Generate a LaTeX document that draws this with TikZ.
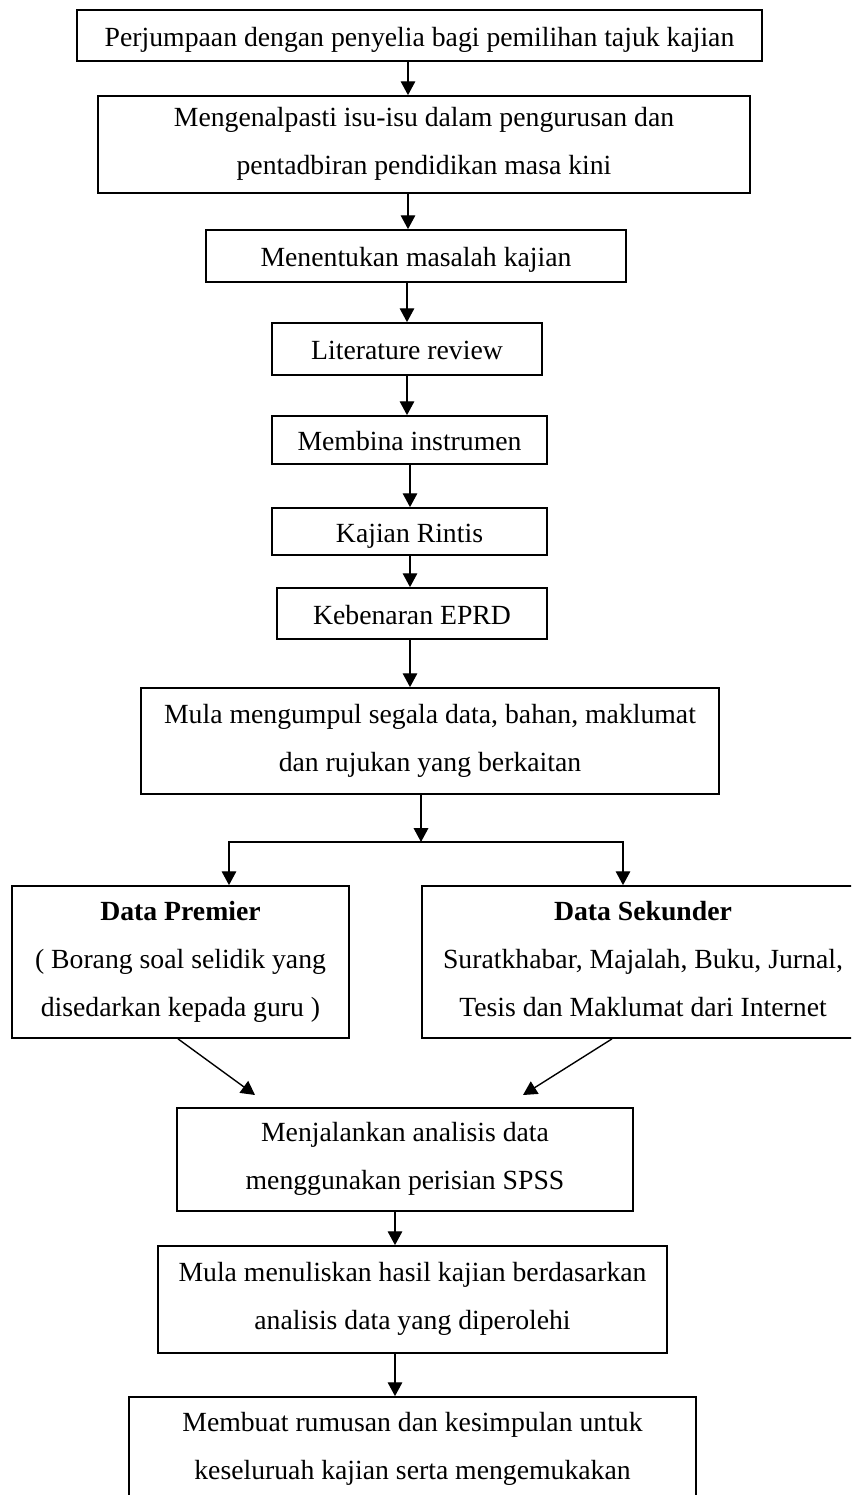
\documentclass[tikz,border=0pt]{standalone}
\usepackage{fontspec}
\setmainfont{Liberation Serif}
\usetikzlibrary{positioning, arrows.meta, calc}
\newcommand{\px}{0.433pt}
\newcommand{\tiang}{\rule[-3pt]{0pt}{15.5pt}}

\begin{document}
\begin{tikzpicture}[
      x=\px, y=-\px,
      boks/.style={draw=black, line width=0.75pt, align=center, inner sep=0pt,
        font=\fontsize{12}{20.8}\selectfont,
        execute at begin node=\tiang, execute at end node=\tiang},
      arr/.style={-{Triangle[length=6pt, width=6.3pt]}, line width=0.6pt}
    ]
    \clip (0,0) rectangle (851,1495);
    % column coordinates for the arrows
    \coordinate (k1) at (408,0);
    \coordinate (k2) at (407,0);
    \coordinate (k3) at (410,0);
    \coordinate (k5) at (395,0);
    \coordinate (kL) at (229,0);
    \coordinate (kR) at (623,0);
    \coordinate (simpang) at (421,842);
    \coordinate (tipL) at (255,1095);
    \coordinate (tipR) at (523,1095);
    % steps
    \node[boks, minimum width=685*\px, minimum height=51*\px] (tajuk) at (419.5,35.5)
      {Perjumpaan dengan penyelia bagi pemilihan tajuk kajian};
    \node[boks, minimum width=652*\px, minimum height=97*\px] (isu) at (424,144.5)
      {Mengenalpasti isu-isu dalam pengurusan dan\\pentadbiran pendidikan masa kini};
    \node[boks, minimum width=420*\px, minimum height=52*\px] (masalah) at (416,256)
      {Menentukan masalah kajian};
    \node[boks, minimum width=270*\px, minimum height=52*\px] (literatur) at (407,349)
      {Literature review};
    \node[boks, minimum width=275*\px, minimum height=48*\px] (instrumen) at (409.5,440)
      {Membina instrumen};
    \node[boks, minimum width=275*\px, minimum height=47*\px] (rintis) at (409.5,531.5)
      {Kajian Rintis};
    \node[boks, minimum width=270*\px, minimum height=51*\px] (eprd) at (412,613.5)
      {Kebenaran EPRD};
    \node[boks, minimum width=578*\px, minimum height=106*\px] (kumpul) at (430,741)
      {Mula mengumpul segala data, bahan, maklumat\\dan rujukan yang berkaitan};
    \node[boks, minimum width=337*\px, minimum height=152*\px] (premier) at (180.5,962)
      {\textbf{Data Premier}\\( Borang soal selidik yang\\disedarkan kepada guru )};
    \node[boks, minimum width=442*\px, minimum height=152*\px] (sekunder) at (643,962)
      {\textbf{Data Sekunder}\\Suratkhabar, Majalah, Buku, Jurnal,\\Tesis dan Maklumat dari Internet};
    \node[boks, minimum width=456*\px, minimum height=103*\px] (analisis) at (405,1159.5)
      {Menjalankan analisis data\\menggunakan perisian SPSS};
    \node[boks, minimum width=509*\px, minimum height=107*\px] (tulis) at (412.5,1299.5)
      {Mula menuliskan hasil kajian berdasarkan\\analisis data yang diperolehi};
    \node[boks, minimum width=567*\px, minimum height=104*\px] (rumusan) at (412.5,1449)
      {Membuat rumusan dan kesimpulan untuk\\keseluruah kajian serta mengemukakan};
    % arrows
    \draw[arr] (tajuk.south -| k1) -- (isu.north -| k1);
    \draw[arr] (isu.south -| k1) -- (masalah.north -| k1);
    \draw[arr] (masalah.south -| k2) -- (literatur.north -| k2);
    \draw[arr] (literatur.south -| k2) -- (instrumen.north -| k2);
    \draw[arr] (instrumen.south -| k3) -- (rintis.north -| k3);
    \draw[arr] (rintis.south -| k3) -- (eprd.north -| k3);
    \draw[arr] (eprd.south -| k3) -- (kumpul.north -| k3);
    \draw[arr] (kumpul.south -| simpang) -- (simpang);
    \draw[arr] (simpang) -- (simpang -| kL) -- (premier.north -| kL);
    \draw[arr] (simpang) -- (simpang -| kR) -- (sekunder.north -| kR);
    \draw[arr] ([xshift=-2.5*\px]premier.south) -- (tipL);
    \draw[arr] ([xshift=-31*\px]sekunder.south) -- (tipR);
    \draw[arr] (analisis.south -| k5) -- (tulis.north -| k5);
    \draw[arr] (tulis.south -| k5) -- (rumusan.north -| k5);
\end{tikzpicture}
\end{document}
